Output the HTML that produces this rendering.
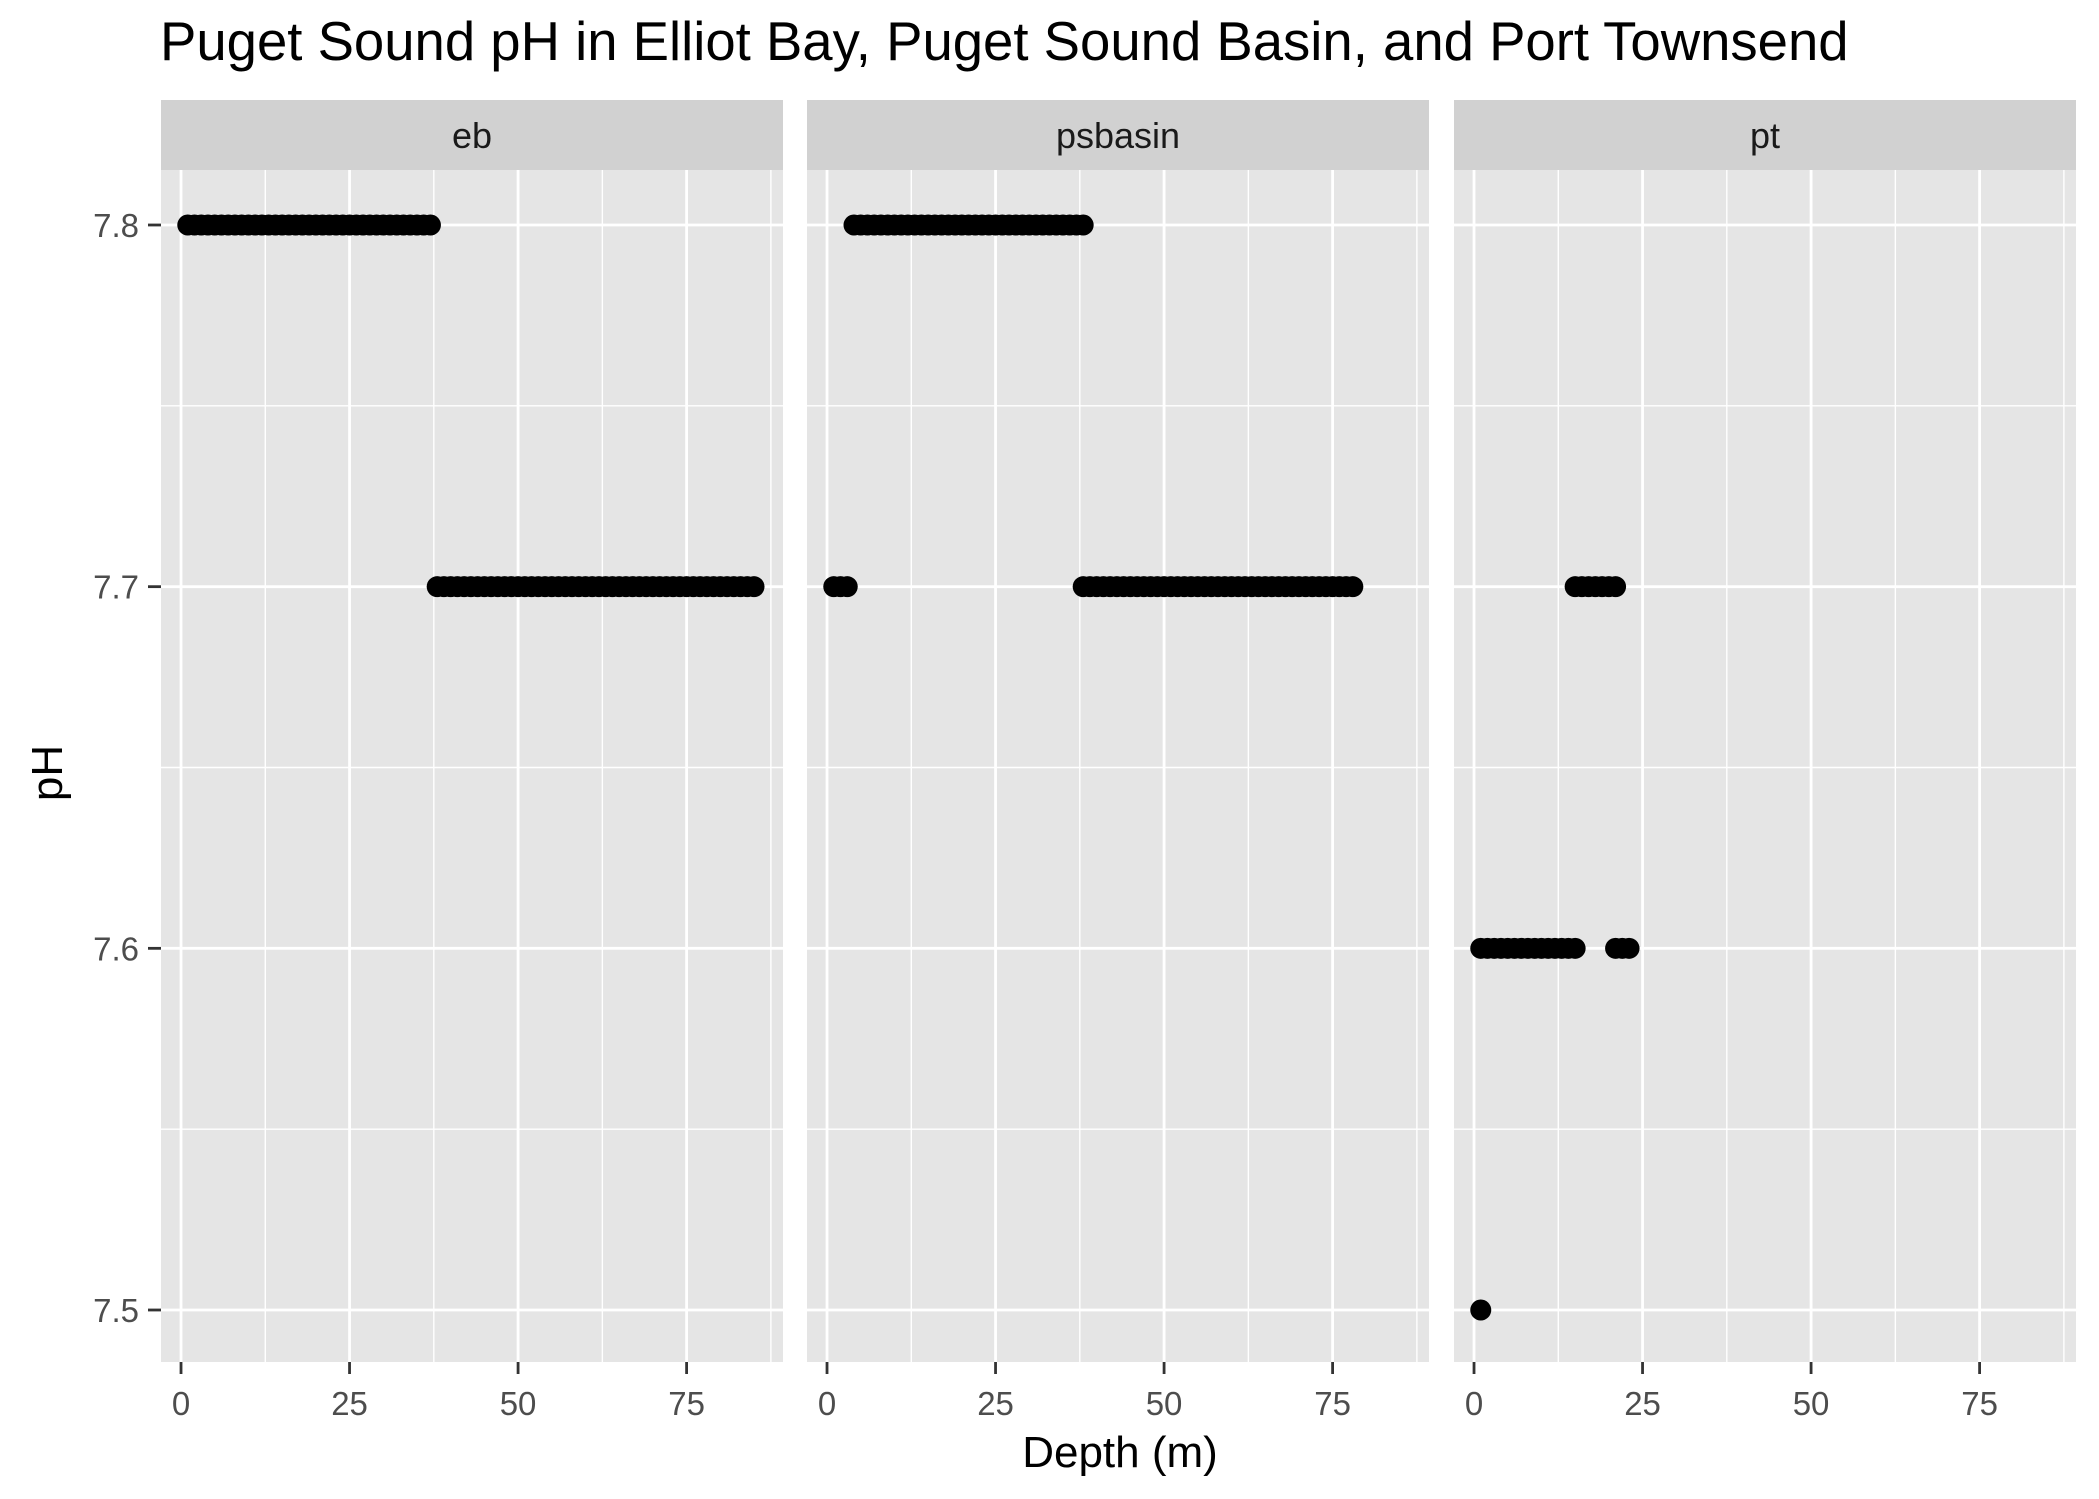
<!DOCTYPE html>
<html><head><meta charset="utf-8"><style>body{margin:0;background:#fff}svg{display:block}text{font-family:"Liberation Sans",Arial,sans-serif}</style></head>
<body>
<svg id="chart" width="2099" height="1499" viewBox="0 0 2099 1499" xmlns="http://www.w3.org/2000/svg">
<text x="160" y="60" font-size="54.5" fill="#000">Puget Sound pH in Elliot Bay, Puget Sound Basin, and Port Townsend</text>
<text x="1120" y="1467" font-size="44" text-anchor="middle" fill="#000">Depth (m)</text>
<text transform="translate(62,773) rotate(-90)" font-size="44" text-anchor="middle" fill="#000">pH</text>
<g id="plots"></g>
</svg>
<script>
const facets = ["eb", "psbasin", "pt"];
const xTicks = [0, 25, 50, 75];
const yTicks = [7.5, 7.6, 7.7, 7.8];
const yTickLabels = ["7.5", "7.6", "7.7", "7.8"];
const ebDepth78 = [1,2,3,4,5,6,7,8,9,10,11,12,13,14,15,16,17,18,19,20,21,22,23,24,25,26,27,28,29,30,31,32,33,34,35,36,37];
const ebDepth77 = [38,39,40,41,42,43,44,45,46,47,48,49,50,51,52,53,54,55,56,57,58,59,60,61,62,63,64,65,66,67,68,69,70,71,72,73,74,75,76,77,78,79,80,81,82,83,84,85];
const psDepth78 = [4,5,6,7,8,9,10,11,12,13,14,15,16,17,18,19,20,21,22,23,24,25,26,27,28,29,30,31,32,33,34,35,36,37,38];
const psDepth77 = [1,2,3,38,39,40,41,42,43,44,45,46,47,48,49,50,51,52,53,54,55,56,57,58,59,60,61,62,63,64,65,66,67,68,69,70,71,72,73,74,75,76,77,78];
const ptDepth77 = [15,16,17,18,19,20,21];
const ptDepth76 = [1,2,3,4,5,6,7,8,9,10,11,12,13,14,15,21,22,23];
const ptDepth75 = [1];

const series = [
  [{ph:7.8, d:ebDepth78},{ph:7.7, d:ebDepth77}],
  [{ph:7.8, d:psDepth78},{ph:7.7, d:psDepth77}],
  [{ph:7.7, d:ptDepth77},{ph:7.6, d:ptDepth76},{ph:7.5, d:ptDepth75}]
];
const NS = "http://www.w3.org/2000/svg";
const panelLeft = [161, 807, 1454], panelW = 622;
const stripTop = 100, panelTop = 170, panelBot = 1362;
const xMin = -2.97, xMax = 89.3;
const pxPerUnitY = (1310 - 225) / 0.3;
const yMax = 7.8 + (225 - panelTop) / pxPerUnitY;
const yMin = 7.5 - (panelBot - 1310) / pxPerUnitY;
function y(v){ return panelTop + (yMax - v) / (yMax - yMin) * (panelBot - panelTop); }
function x(i, v){ return panelLeft[i] + (v - xMin) / (xMax - xMin) * panelW; }
function mk(tag, attrs, parent){ const e=document.createElementNS(NS,tag); for(const k in attrs) e.setAttribute(k, attrs[k]); parent.appendChild(e); return e; }
const root = document.getElementById('plots');
facets.forEach((f, i) => {
  const g = mk('g', {}, root);
  
  
  const strip = mk('rect', {x:panelLeft[i], y:stripTop, width:panelW, height:panelTop-stripTop, fill:'#d1d1d1'}, g);
  
  
  const st = mk('text', {x:panelLeft[i]+panelW/2, y:stripTop+48, 'font-size':36, 'text-anchor':'middle', fill:'#1a1a1a'}, g);
  st.textContent = f;
  
  
  const bg = mk('rect', {x:panelLeft[i], y:panelTop, width:panelW, height:panelBot-panelTop, fill:'#e5e5e5'}, g);
  
  
  yTicks.forEach(t => { const v = t + 0.05; if (v < yMax) { const l = mk('line', {x1:panelLeft[i], x2:panelLeft[i]+panelW, y1:y(v), y2:y(v), stroke:'#fff', 'stroke-width':1.4}, g);   } });
  xTicks.forEach(t => { const v = t + 12.5; const l = mk('line', {x1:x(i,v), x2:x(i,v), y1:panelTop, y2:panelBot, stroke:'#fff', 'stroke-width':1.4}, g);   });
  yTicks.forEach(t => { const l = mk('line', {x1:panelLeft[i], x2:panelLeft[i]+panelW, y1:y(t), y2:y(t), stroke:'#fff', 'stroke-width':2.8}, g);   });
  xTicks.forEach((t, k) => {
    const l = mk('line', {x1:x(i,t), x2:x(i,t), y1:panelTop, y2:panelBot, stroke:'#fff', 'stroke-width':2.8}, g);
     
    const tk = mk('line', {x1:x(i,t), x2:x(i,t), y1:panelBot, y2:panelBot+12, stroke:'#333', 'stroke-width':2.8}, g);
     
    const tl = mk('text', {x:x(i,t), y:1415, 'font-size':33, 'text-anchor':'middle', fill:'#4d4d4d'}, g);
    tl.textContent = String(t);
     
  });
  series[i].forEach(s => s.d.forEach(d => {
    const c = mk('circle', {cx:x(i,d), cy:y(s.ph), r:10.5, fill:'#000'}, g);
     
  }));
});
yTicks.forEach((t, k) => {
  const tk = mk('line', {x1:148, x2:161, y1:y(t), y2:y(t), stroke:'#333', 'stroke-width':2.8}, root);
   
  const tl = mk('text', {x:139, y:y(t)+12, 'font-size':33, 'text-anchor':'end', fill:'#4d4d4d'}, root);
  tl.textContent = yTickLabels[k];
   
});
</script>
</body></html>
